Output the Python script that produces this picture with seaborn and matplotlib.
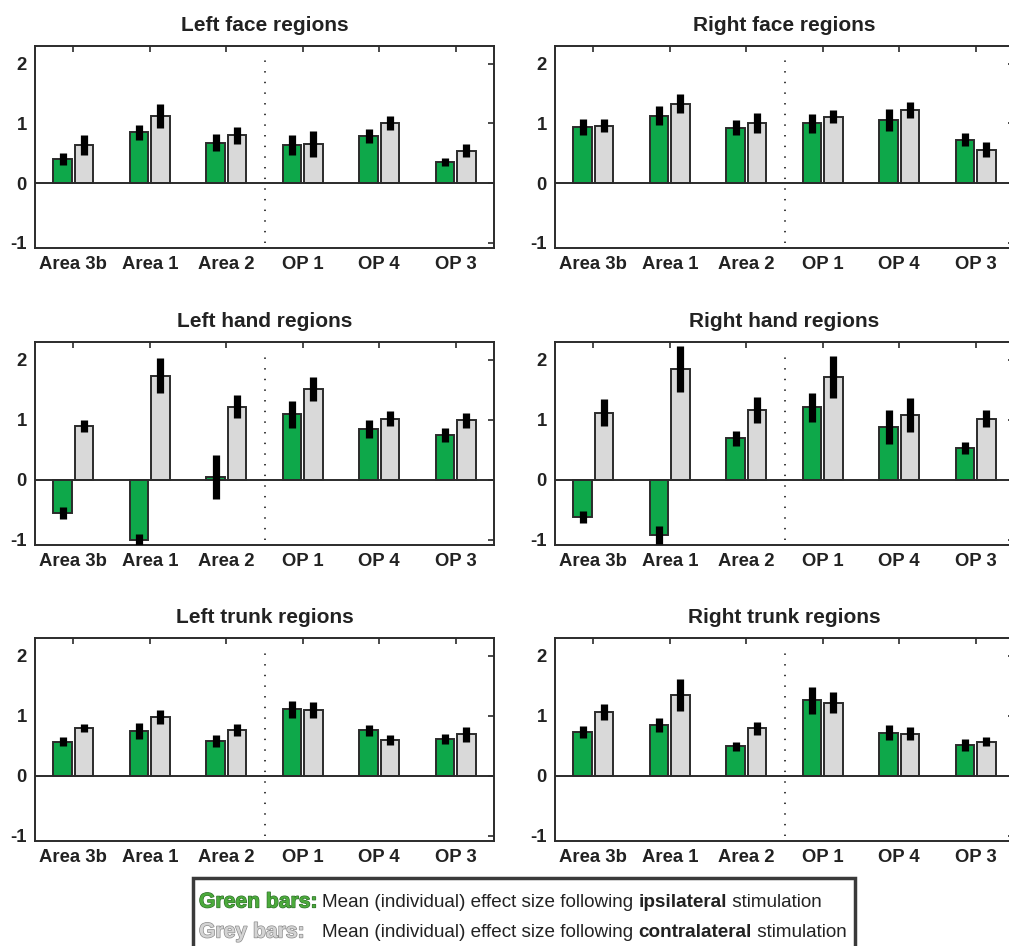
import numpy as np
import pandas as pd
import matplotlib
matplotlib.use("Agg")
import matplotlib.pyplot as plt
import matplotlib.patheffects as pe
from matplotlib.patches import Rectangle
import seaborn as sns

# Regions of interest along the somatosensory hierarchy
regions = ["Area 3b", "Area 1", "Area 2", "OP 1", "OP 4", "OP 3"]
conditions = ["ipsilateral", "contralateral"]

# Mean effect sizes (ipsilateral = green, contralateral = grey) and error half-widths
left_face_ipsi = [0.41, 0.85, 0.68, 0.64, 0.79, 0.35]
left_face_ipsi_err = [0.10, 0.12, 0.14, 0.17, 0.11, 0.065]
left_face_contra = [0.64, 1.12, 0.80, 0.66, 1.01, 0.54]
left_face_contra_err = [0.17, 0.20, 0.14, 0.22, 0.12, 0.11]

right_face_ipsi = [0.94, 1.13, 0.93, 1.00, 1.06, 0.73]
right_face_ipsi_err = [0.14, 0.16, 0.12, 0.16, 0.18, 0.11]
right_face_contra = [0.96, 1.33, 1.01, 1.11, 1.23, 0.56]
right_face_contra_err = [0.11, 0.16, 0.17, 0.11, 0.13, 0.13]

left_hand_ipsi = [-0.56, -1.01, 0.04, 1.09, 0.85, 0.75]
left_hand_ipsi_err = [0.10, 0.10, 0.37, 0.22, 0.15, 0.12]
left_hand_contra = [0.89, 1.74, 1.22, 1.51, 1.02, 0.99]
left_hand_contra_err = [0.10, 0.29, 0.19, 0.20, 0.13, 0.13]

right_hand_ipsi = [-0.62, -0.92, 0.69, 1.21, 0.88, 0.53]
right_hand_ipsi_err = [0.10, 0.15, 0.13, 0.24, 0.28, 0.10]
right_hand_contra = [1.12, 1.85, 1.16, 1.72, 1.08, 1.02]
right_hand_contra_err = [0.23, 0.38, 0.22, 0.35, 0.28, 0.14]

left_trunk_ipsi = [0.57, 0.75, 0.58, 1.11, 0.76, 0.61]
left_trunk_ipsi_err = [0.07, 0.13, 0.10, 0.14, 0.09, 0.08]
left_trunk_contra = [0.80, 0.98, 0.76, 1.10, 0.60, 0.69]
left_trunk_contra_err = [0.07, 0.12, 0.10, 0.13, 0.08, 0.13]

right_trunk_ipsi = [0.73, 0.85, 0.49, 1.26, 0.72, 0.51]
right_trunk_ipsi_err = [0.10, 0.12, 0.07, 0.23, 0.13, 0.10]
right_trunk_contra = [1.06, 1.35, 0.79, 1.22, 0.70, 0.57]
right_trunk_contra_err = [0.13, 0.27, 0.11, 0.17, 0.11, 0.08]

panels = [
    ("Left face regions", left_face_ipsi, left_face_ipsi_err, left_face_contra, left_face_contra_err),
    ("Right face regions", right_face_ipsi, right_face_ipsi_err, right_face_contra, right_face_contra_err),
    ("Left hand regions", left_hand_ipsi, left_hand_ipsi_err, left_hand_contra, left_hand_contra_err),
    ("Right hand regions", right_hand_ipsi, right_hand_ipsi_err, right_hand_contra, right_hand_contra_err),
    ("Left trunk regions", left_trunk_ipsi, left_trunk_ipsi_err, left_trunk_contra, left_trunk_contra_err),
    ("Right trunk regions", right_trunk_ipsi, right_trunk_ipsi_err, right_trunk_contra, right_trunk_contra_err),
]

GREEN = "#0ea84a"
GREY = "#d9d9d9"
EDGE = "#2b2b2b"
TEXT = "#222222"

sns.set_theme(style="white")
plt.rcParams["font.family"] = ["Liberation Sans", "DejaVu Sans"]

W, H = 1009, 946
fig = plt.figure(figsize=(W / 100, H / 100), dpi=100)

# axes boxes in pixels: (left, right) per column, (top, bottom) per row
col_x = [(35, 494), (555, 1014)]
row_y = [(46, 248), (342, 545), (638, 841)]

for i, (title, gi, gie, ci, cie) in enumerate(panels):
    r, c = divmod(i, 2)
    x0, x1 = col_x[c]
    t, b = row_y[r]
    ax = fig.add_axes([x0 / W, (H - b) / H, (x1 - x0) / W, (b - t) / H])

    df = pd.DataFrame({
        "region": regions * 2,
        "condition": [conditions[0]] * 6 + [conditions[1]] * 6,
        "value": list(gi) + list(ci),
    })
    sns.barplot(data=df, x="region", y="value", hue="condition",
                order=regions, hue_order=conditions,
                palette=[GREEN, GREY], saturation=1, width=0.56, gap=0.14,
                edgecolor=EDGE, linewidth=1.4, errorbar=None,
                legend=False, ax=ax, zorder=2)

    for cont, errs in zip(ax.containers, [gie, cie]):
        for bar, e in zip(cont, errs):
            xc = bar.get_x() + bar.get_width() / 2
            yv = bar.get_y() + bar.get_height()
            ax.errorbar(xc, yv, yerr=e, fmt="none", ecolor="black",
                        elinewidth=5.2, capsize=0, zorder=4)

    ax.axhline(0, color=EDGE, lw=1.4, zorder=3)
    ax.plot([2.5, 2.5], [-1.0, 2.15], color=EDGE, lw=1.3,
            linestyle=(0, (0.8, 5.1)), zorder=1)

    ax.set_xlim(-0.5, 5.5)
    ax.set_ylim(-1.09, 2.3)
    ax.set_yticks([-1, 0, 1, 2])
    ax.set_yticklabels(["-1", "0", "1", "2"])
    ax.set_xlabel("")
    ax.set_ylabel("")
    ax.tick_params(direction="in", length=4, width=1.2, color=EDGE,
                   top=True, right=True, labelsize=13.3, pad=6,
                   labelcolor=TEXT)
    for lab in ax.get_xticklabels() + ax.get_yticklabels():
        lab.set_fontweight("bold")
    for sp in ax.spines.values():
        sp.set_visible(True)
        sp.set_color(EDGE)
        sp.set_linewidth(1.4)
    ax.set_title(title, fontsize=15, fontweight="bold", color=TEXT, pad=11)

# Explanatory key box below the panels
fig.patches.append(Rectangle((193 / W, (H - 960) / H), (855 - 193) / W, (960 - 878) / H,
                             transform=fig.transFigure, fill=False,
                             edgecolor="#3a3a3a", linewidth=2.5))

renderer = fig.canvas.get_renderer()


def draw_line(pieces, x_px, y_px):
    x = x_px
    for text, kw in pieces:
        tx = fig.text(x / W, (H - y_px) / H, text, va="center", ha="left",
                      fontsize=13.6, color=TEXT, **kw)
        bb = tx.get_window_extent(renderer=renderer)
        x += bb.width


green_fx = [pe.withStroke(linewidth=0.9, foreground="#2e6e2a")]
grey_fx = [pe.withStroke(linewidth=1.0, foreground="#8c8c8c")]

fig.text(199 / W, (H - 902) / H, "Green bars:", va="center", ha="left",
         fontsize=15.2, fontweight="bold", color="#4caa3c", path_effects=green_fx)
fig.text(199 / W, (H - 932) / H, "Grey bars:", va="center", ha="left",
         fontsize=15.2, fontweight="bold", color="#d4d4d4", path_effects=grey_fx)

draw_line([("Mean (individual) effect size following ", {}),
           ("ipsilateral", dict(fontweight="bold")),
           (" stimulation", {})], 322, 902)
draw_line([("Mean (individual) effect size following ", {}),
           ("contralateral", dict(fontweight="bold")),
           (" stimulation", {})], 322, 932)

fig.savefig("out.png", dpi=100)
